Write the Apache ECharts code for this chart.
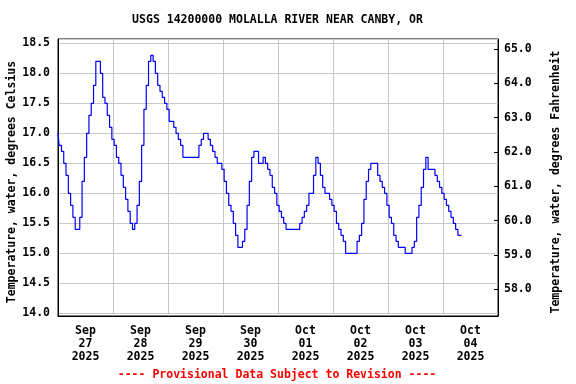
<!DOCTYPE html>
<html>
<head>
<meta charset="utf-8">
<script src="https://cdn.jsdelivr.net/npm/echarts@6/dist/echarts.min.js"></script>
<style>html,body{margin:0;padding:0;background:#fff}#c{width:576px;height:384px}</style>
</head>
<body>
<div id="c"></div>
<script>
// Day labels (x axis, centred on each day)
const dayLabels = ['Sep\n27\n2025','Sep\n28\n2025','Sep\n29\n2025','Sep\n30\n2025','Oct\n01\n2025','Oct\n02\n2025','Oct\n03\n2025','Oct\n04\n2025'];
// Hourly water temperature (deg C), starting Sep 27 00:00
const tempC = [
  17.0,16.8,16.7,16.5,16.3,16.0,15.8,15.6,15.4,15.4,15.6,16.2,16.6,17.0,17.3,17.5,17.8,18.2,18.2,18.0,17.6,17.5,17.3,17.1,
  16.9,16.8,16.6,16.5,16.3,16.1,15.9,15.7,15.5,15.4,15.5,15.8,16.2,16.8,17.4,17.8,18.2,18.3,18.2,18.0,17.8,17.7,17.6,17.5,
  17.4,17.2,17.2,17.1,17.0,16.9,16.8,16.6,16.6,16.6,16.6,16.6,16.6,16.6,16.8,16.9,17.0,17.0,16.9,16.8,16.7,16.6,16.5,16.5,
  16.4,16.2,16.0,15.8,15.7,15.5,15.3,15.1,15.1,15.2,15.4,15.8,16.2,16.6,16.7,16.7,16.5,16.5,16.6,16.5,16.4,16.3,16.1,16.0,
  15.8,15.7,15.6,15.5,15.4,15.4,15.4,15.4,15.4,15.4,15.5,15.6,15.7,15.8,16.0,16.0,16.3,16.6,16.5,16.3,16.1,16.0,16.0,15.9,
  15.8,15.7,15.5,15.4,15.3,15.2,15.0,15.0,15.0,15.0,15.0,15.2,15.3,15.5,15.9,16.2,16.4,16.5,16.5,16.5,16.3,16.2,16.1,16.0,
  15.8,15.6,15.5,15.3,15.2,15.1,15.1,15.1,15.0,15.0,15.0,15.1,15.2,15.6,15.8,16.1,16.4,16.6,16.4,16.4,16.4,16.3,16.2,16.1,
  16.0,15.9,15.8,15.7,15.6,15.5,15.4,15.3,15.3
];
const stepHours = 1;

const FONT = 'DejaVu Sans Mono';
const data = tempC.map((v, i) => [i * stepHours, v]);

const chart = echarts.init(document.getElementById('c'), null, {renderer: 'canvas'});
chart.setOption({
  animation: false,
  backgroundColor: '#fff',
  grid: {left: 58, right: 78, top: 39, bottom: 68, show: true, borderColor: '#000', borderWidth: 1, containLabel: false},
  xAxis: [
    {type: 'value', min: 0, max: 192, interval: 24,
     axisLine: {show: true, lineStyle: {color: '#000', width: 1}},
     axisTick: {show: false}, axisLabel: {show: false},
     splitLine: {show: true, lineStyle: {color: '#c8c8c8', width: 1}}},
    {type: 'category', data: dayLabels, boundaryGap: true, position: 'bottom',
     axisLine: {show: false}, axisTick: {show: false}, splitLine: {show: false},
     axisLabel: {show: true, interval: 0, margin: 9, color: '#000', fontFamily: FONT, fontWeight: 'bold', fontSize: 11.5, lineHeight: 13}}
  ],
  yAxis: [
    {type: 'value', min: 13.955, max: 18.572, splitNumber: 9, position: 'left',
     axisLine: {show: true, lineStyle: {color: '#000'}},
     axisTick: {show: false},
     splitLine: {show: true, lineStyle: {color: '#c8c8c8', width: 1}},
     axisLabel: {margin: 8, color: '#000', fontFamily: FONT, fontWeight: 'bold', fontSize: 11.5,
       showMinLabel: false, showMaxLabel: false,
       formatter: v => Math.abs(v * 2 - Math.round(v * 2)) < 1e-6 ? v.toFixed(1) : ''}},
    {type: 'value', min: 57.22, max: 65.29, splitNumber: 8, position: 'right',
     axisLine: {show: true, lineStyle: {color: '#000'}},
     axisTick: {show: true, inside: true, length: 4, lineStyle: {color: '#000'}},
     splitLine: {show: false},
     axisLabel: {margin: 6, color: '#000', fontFamily: FONT, fontWeight: 'bold', fontSize: 11.5,
       showMinLabel: false, showMaxLabel: false,
       formatter: v => Math.abs(v - Math.round(v)) < 1e-6 ? v.toFixed(1) : ''}}
  ],
  series: [{
    type: 'line', xAxisIndex: 0, yAxisIndex: 0, data: data, step: 'middle',
    showSymbol: false, symbol: 'none',
    lineStyle: {color: '#0000ff', width: 1.2}
  }],
  graphic: [
    {type: 'text', x: 277.5, y: 20, style: {text: 'USGS 14200000 MOLALLA RIVER NEAR CANBY, OR', textAlign: 'center', textVerticalAlign: 'middle', font: 'bold 11.5px "DejaVu Sans Mono"', fill: '#000'}},
    {type: 'text', x: 12, y: 182, rotation: Math.PI / 2, style: {text: 'Temperature, water, degrees Celsius', textAlign: 'center', textVerticalAlign: 'middle', font: 'bold 11.5px "DejaVu Sans Mono"', fill: '#000'}},
    {type: 'text', x: 556, y: 182, rotation: Math.PI / 2, style: {text: 'Temperature, water, degrees Fahrenheit', textAlign: 'center', textVerticalAlign: 'middle', font: 'bold 11.5px "DejaVu Sans Mono"', fill: '#000'}},
    {type: 'text', x: 277, y: 375, style: {text: '---- Provisional Data Subject to Revision ----', textAlign: 'center', textVerticalAlign: 'middle', font: 'bold 11.5px "DejaVu Sans Mono"', fill: '#ff0000'}}
  ]
});
</script>
</body>
</html>
